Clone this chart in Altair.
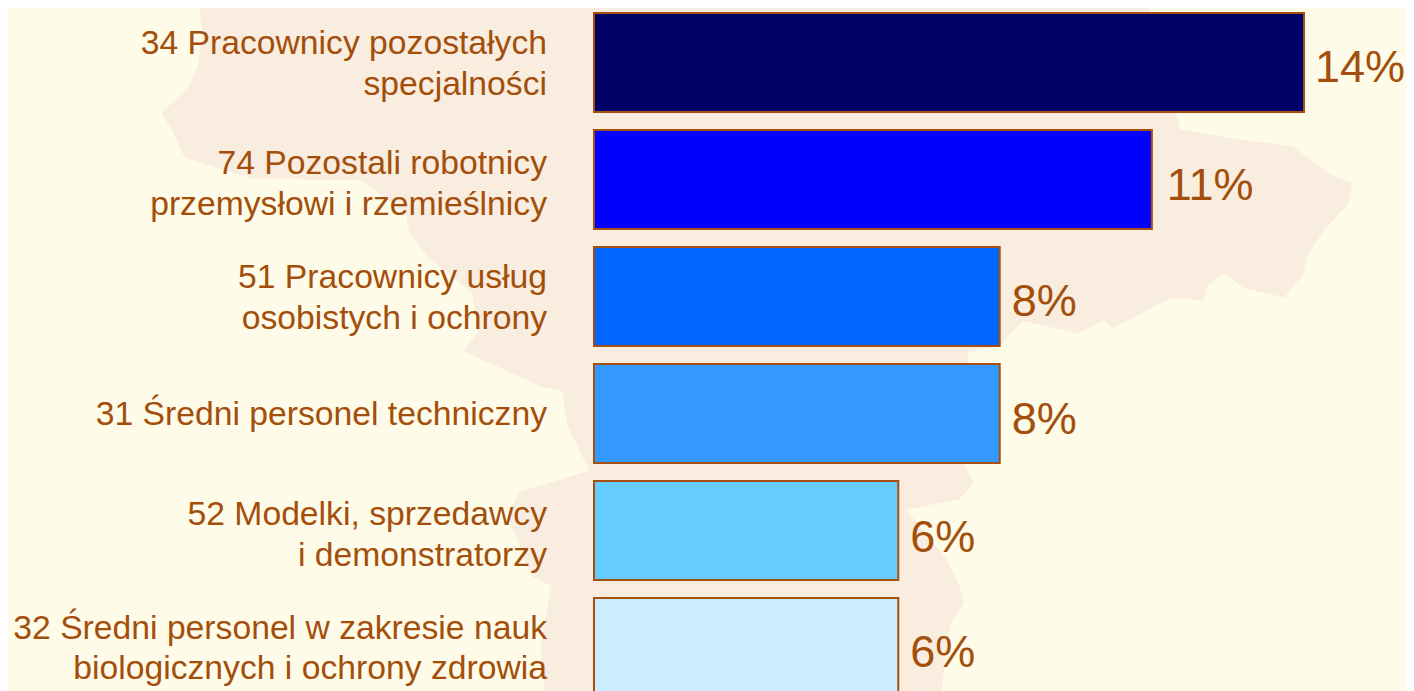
import altair as alt
import pandas as pd

categories = [
    "34 Pracownicy pozostałych|specjalności",
    "74 Pozostali robotnicy|przemysłowi i rzemieślnicy",
    "51 Pracownicy usług|osobistych i ochrony",
    "31 Średni personel techniczny",
    "52 Modelki, sprzedawcy|i demonstratorzy",
    "32 Średni personel w zakresie nauk|biologicznych i ochrony zdrowia",
]
values = [14, 11, 8, 8, 6, 6]
pct_labels = ["14%", "11%", "8%", "8%", "6%", "6%"]
bar_colors = ["#000066", "#0000FF", "#0066FF", "#3399FF", "#66CCFF", "#CCECFF"]

map_x = [212, 200, 203, 198, 189, 162, 174, 185, 252, 361, 406, 410, 428, 473, 478, 464, 541, 563, 568,
         590, 518, 510, 532, 552, 541, 545, 941, 950, 964, 959, 946, 905, 959, 973, 964, 968, 1000, 1023,
         1077, 1104, 1113, 1171, 1203, 1207, 1225, 1243, 1284, 1302, 1307, 1325, 1347, 1352, 1334, 1293,
         1239, 1180, 1176, 1149, 1149, 212]
map_y = [0, 10, 33, 67, 87, 113, 133, 157, 178, 180, 213, 233, 257, 293, 333, 351, 386, 391, 426,
         471, 493, 520, 576, 586, 646, 691, 691, 623, 603, 586, 559, 509, 499, 483, 466, 351, 345, 320,
         333, 320, 328, 297, 300, 285, 273, 287, 297, 275, 255, 228, 205, 183, 177, 147,
         140, 130, 115, 60, 0, 0]

TEXT = "#A34F0B"
FONT = "Liberation Sans"

df = pd.DataFrame({"cat": categories, "v": values, "pct": pct_labels, "col": bar_colors})
mp = pd.DataFrame({"mx": map_x, "my": map_y, "i": range(len(map_x))})

silhouette = alt.Chart(mp).mark_line(fill="#F9EDDF", stroke="#F9EDDF", strokeWidth=1).encode(
    x=alt.X("mx:Q", axis=None, scale=alt.Scale(domain=[0, 1414], range=[-594, 820], nice=False, zero=False)),
    y=alt.Y("my:Q", axis=None, scale=alt.Scale(domain=[0, 691], range=[-8, 683], nice=False, zero=False)),
    order="i:Q",
)

x_scale = alt.Scale(domain=[0, 14], range=[0, 710], nice=False)
y_scale = alt.Scale(type="band", domain=categories, range=[5, 689], paddingInner=18 / 117, paddingOuter=0)
y_enc = alt.Y("cat:N", sort=categories, scale=y_scale, axis=None, title=None)

bars = alt.Chart(df).mark_bar(stroke="#A5500E", strokeWidth=2).encode(
    x=alt.X("v:Q", axis=None, scale=x_scale),
    y=y_enc,
    fill=alt.Fill("col:N", scale=None, legend=None),
)

# Small per-row nudges of the text, as the reference places each row by hand
pct_nudge = [(11, 5), (15, 6), (12, 5), (12, 6), (12, 7), (12, 5)]
cat_nudge = [-18.5, -15.5, -18.5, 1, -15.5, -19]

layers = [silhouette, bars]
for i in range(len(categories)):
    row = df.iloc[[i]]
    layers.append(
        alt.Chart(row).mark_text(
            align="left", baseline="middle", font=FONT, fontSize=45, color=TEXT,
            dx=pct_nudge[i][0], dy=pct_nudge[i][1],
        ).encode(x=alt.X("v:Q", axis=None, scale=x_scale), y=y_enc, text="pct:N")
    )
    layers.append(
        alt.Chart(row).mark_text(
            align="right", baseline="middle", font=FONT, fontSize=33.7, color=TEXT,
            lineBreak="|", lineHeight=40.5, dy=cat_nudge[i],
        ).encode(x=alt.value(-47), y=y_enc, text="cat:N")
    )

chart = (
    alt.layer(*layers)
    .resolve_scale(x="independent", y="independent")
    .properties(
        width=812,
        height=683,
        background="#FFFBE9",
        padding={"left": 586, "top": 0, "right": 0, "bottom": 0},
        autosize=alt.AutoSizeParams(type="none"),
    )
    .configure_view(stroke=None)
)

chart.save("out.html", embed_options={"renderer": "svg", "actions": False})
